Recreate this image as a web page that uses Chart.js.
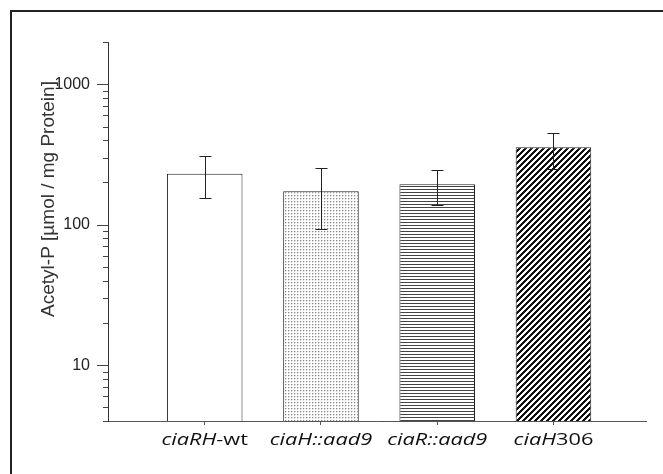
<!DOCTYPE html>
<html>
<head>
<meta charset="utf-8">
<script src="https://cdn.jsdelivr.net/npm/chart.js@4"></script>
<style>
  html, body { margin: 0; padding: 0; background: #fff; }
  #wrap { position: relative; width: 663px; height: 474px; overflow: hidden; }
  #frame { position: absolute; left: 10px; top: 10px; width: 700px; height: 500px;
           border-left: 2px solid #222; border-top: 2px solid #222; pointer-events: none; }
  canvas { position: absolute; left: 0; top: 0; }
</style>
</head>
<body>
<div id="wrap">
  <canvas id="c" width="663" height="474"></canvas>
  <div id="frame"></div>
</div>
<script>
// ---- data ----
const categories  = ['ciaRH-wt', 'ciaH::aad9', 'ciaR::aad9', 'ciaH306'];
const italicParts = ['ciaRH', 'ciaH::aad9', 'ciaR::aad9', 'ciaH'];
const values      = [231, 173, 194, 356];
const errLow      = [154, 93, 139, 248];
const errHigh     = [307, 252, 246, 451];
const yTickLabels = [10, 100, 1000];
const yMinorTicks = [4, 5, 6, 7, 8, 9, 20, 30, 40, 50, 60, 70, 80, 90,
                     200, 300, 400, 500, 600, 700, 800, 900, 2000];
const yTitle = 'Acetyl-P [\u00b5mol / mg Protein]';

// ---- patterns ----
function makePattern(w, h, painter) {
  const cv = document.createElement('canvas');
  cv.width = w; cv.height = h;
  const g = cv.getContext('2d');
  g.fillStyle = '#ffffff';
  g.fillRect(0, 0, w, h);
  painter(g, w, h);
  return document.getElementById('c').getContext('2d').createPattern(cv, 'repeat');
}
const patWhite = '#ffffff';
const patDots = makePattern(3, 3, (g) => {
  g.fillStyle = '#888'; g.fillRect(0, 0, 1, 1);
  g.fillStyle = '#d8d8d8'; g.fillRect(1, 0, 1, 1); g.fillRect(0, 1, 1, 1);
});
const patHLines = makePattern(4, 3, (g) => {
  g.fillStyle = '#444'; g.fillRect(0, 0, 4, 1);
});
const patDiag = makePattern(6, 6, (g) => {
  g.fillStyle = '#111';
  for (let x = 0; x < 6; x++) for (let y = 0; y < 6; y++) {
    if ((x + y) % 6 < 3) g.fillRect(x, y, 1, 1);
  }
});

// ---- plugins ----
const decor = {
  id: 'decor',
  afterDatasetsDraw(chart) {
    const ctx = chart.ctx;
    const ys = chart.scales.y;
    const meta = chart.getDatasetMeta(0);
    ctx.save();
    ctx.strokeStyle = '#222';
    ctx.lineWidth = 1;
    meta.data.forEach((bar, i) => {
      const x = Math.round(bar.x) + 0.5;
      const yt = Math.round(ys.getPixelForValue(errHigh[i])) + 0.5;
      const yb = Math.round(ys.getPixelForValue(errLow[i])) + 0.5;
      ctx.beginPath();
      ctx.moveTo(x, yt); ctx.lineTo(x, yb);
      ctx.moveTo(x - 6, yt); ctx.lineTo(x + 6, yt);
      ctx.moveTo(x - 6, yb); ctx.lineTo(x + 6, yb);
      ctx.stroke();
    });
    ctx.restore();
  },
  afterDraw(chart) {
    const ctx = chart.ctx;
    const ys = chart.scales.y, xs = chart.scales.x;
    const left = chart.chartArea.left;
    ctx.save();
    // y tick marks
    ctx.strokeStyle = '#444';
    ctx.lineWidth = 1;
    ctx.beginPath();
    yTickLabels.forEach(v => {
      const y = Math.round(ys.getPixelForValue(v)) + 0.5;
      ctx.moveTo(left - 11, y); ctx.lineTo(left, y);
    });
    yMinorTicks.forEach(v => {
      const y = Math.round(ys.getPixelForValue(v)) + 0.5;
      ctx.moveTo(left - 5, y); ctx.lineTo(left, y);
    });
    ctx.stroke();

    // y axis title
    ctx.save();
    ctx.translate(49, 199);
    ctx.rotate(-Math.PI / 2);
    ctx.font = '19px Arial, "Liberation Sans", sans-serif';
    ctx.fillStyle = '#333';
    ctx.textAlign = 'center';
    ctx.textBaseline = 'middle';
    ctx.fillText(yTitle, 0, 0);
    ctx.restore();

    // x category labels with italic gene names
    const base = chart.chartArea.bottom + 24;
    const size = 16;
    const sx = 1.36;
    const fam = '"Open Sans", Lato, sans-serif';
    ctx.fillStyle = '#111';
    ctx.textBaseline = 'alphabetic';
    ctx.textAlign = 'left';
    categories.forEach((cat, i) => {
      const it = italicParts[i];
      const rest = cat.slice(it.length);
      ctx.font = 'italic ' + size + 'px ' + fam;
      const w1 = ctx.measureText(it).width;
      ctx.font = size + 'px ' + fam;
      const w2 = ctx.measureText(rest).width;
      const cx = xs.getPixelForValue(i + 1);
      ctx.save();
      ctx.translate(cx, base);
      ctx.scale(sx, 1);
      const x0 = -(w1 + w2) / 2;
      ctx.font = 'italic ' + size + 'px ' + fam;
      ctx.fillText(it, x0, 0);
      ctx.font = size + 'px ' + fam;
      ctx.fillText(rest, x0 + w1, 0);
      ctx.restore();
    });
    ctx.restore();
  }
};

new Chart(document.getElementById('c'), {
  type: 'bar',
  data: {
    datasets: [{
      data: categories.map((c, i) => ({ x: i + 1, y: values[i] })),
      backgroundColor: [patWhite, patDots, patHLines, patDiag],
      borderColor: '#222',
      borderWidth: 1,
      categoryPercentage: 1,
      barPercentage: 0.65
    }]
  },
  options: {
    responsive: false,
    animation: false,
    devicePixelRatio: 1,
    layout: { padding: { left: 0, right: 17, top: 42, bottom: 0 } },
    plugins: { legend: { display: false }, tooltip: { enabled: false } },
    scales: {
      x: {
        type: 'linear',
        offset: false,
        min: 0.168,
        max: 4.796,
        afterBuildTicks: (s) => { s.ticks = [1.5, 2.5, 3.5, 4.5].map(v => ({ value: v })); },
        afterFit: (s) => { s.height = 53; },
        ticks: { display: false },
        grid: { display: true, drawOnChartArea: false, drawTicks: true, tickLength: 4, color: '#555' },
        border: { display: true, color: '#555', width: 1 }
      },
      y: {
        type: 'logarithmic',
        min: 4,
        max: 2000,
        afterBuildTicks: (s) => { s.ticks = yTickLabels.map(v => ({ value: v })); },
        afterFit: (s) => { s.width = 108; },
        ticks: {
          padding: 18,
          color: '#222',
          font: { family: 'Arial, "Liberation Sans", sans-serif', size: 16 },
          callback: (v) => String(v)
        },
        grid: { display: false, drawTicks: false },
        border: { display: true, color: '#333', width: 1 },
        title: { display: false }
      }
    }
  },
  plugins: [decor]
});
</script>
</body>
</html>
